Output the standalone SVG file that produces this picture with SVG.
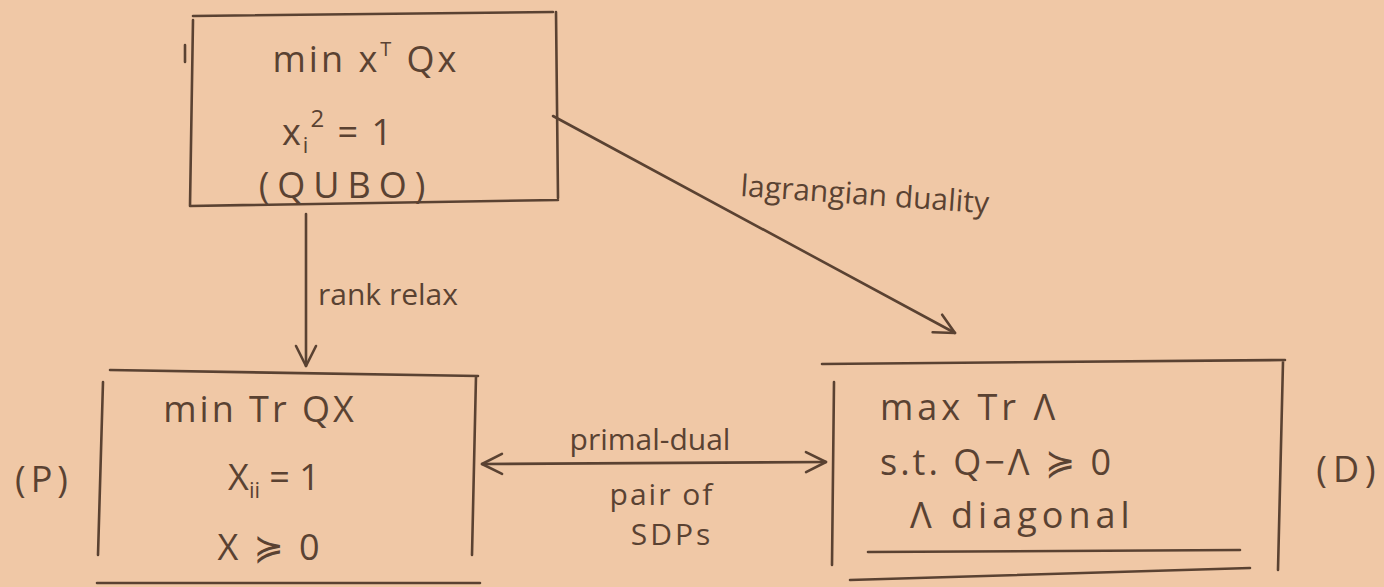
<svg xmlns="http://www.w3.org/2000/svg" width="1384" height="587" viewBox="0 0 1384 587">
<style>
.ln{fill:none;stroke:#5a4232;stroke-width:2.6;stroke-linecap:round;stroke-linejoin:round}
.t{font-family:"Open Sans","DejaVu Sans",sans-serif;fill:#5a4232;font-size:36px}
.m{text-anchor:middle}
.s{font-size:30px}
</style>
<defs>
<marker id="ah" viewBox="0 0 24 24" refX="22" refY="12" markerWidth="24" markerHeight="24" markerUnits="userSpaceOnUse" orient="auto-start-reverse">
<path d="M2,2 L22,12 L2,22" fill="none" stroke="#5a4232" stroke-width="2.6" stroke-linecap="round" stroke-linejoin="round"/>
</marker>
</defs>
<rect width="1384" height="587" fill="#f0c8a6"/>
<g id="qubo">
<path class="ln" d="M193,16 L553,12 M193,20 L190,206 L558,200 M556,12 L558,198 M185,45 L185,62"/>
<text class="t m" x="366" y="72" letter-spacing="3">min  x<tspan font-size="20" dy="-16">T</tspan><tspan dy="16"> Qx</tspan></text>
<text class="t m" x="338" y="145" letter-spacing="2">x<tspan font-size="22" dy="8">i</tspan><tspan font-size="24" dy="-26">2</tspan><tspan dy="18"> = 1</tspan></text>
<text class="t m" x="346" y="198" letter-spacing="8">(QUBO)</text>
</g>
<g id="primal">
<path class="ln" d="M110,370 L478,376 M103,382 L98,555 M476,376 L472,555 M97,583 L480,583"/>
<text class="t m" x="260" y="422" letter-spacing="3">min Tr QX</text>
<text class="t m" x="274" y="490">X<tspan font-size="22" dy="8">ii</tspan><tspan dy="-8"> = 1</tspan></text>
<text class="t m" x="270" y="560" font-size="40" letter-spacing="3">X ≽ 0</text>
<text class="t m" x="44" y="492" letter-spacing="5">(P)</text>
</g>
<g id="dual">
<path class="ln" d="M822,364 L1285,360 M834,382 L832,565 M1283,362 L1278,570 M868,552 L1240,550 M850,580 L1250,568"/>
<text class="t" x="880" y="420" letter-spacing="4">max Tr Λ</text>
<text class="t" x="880" y="475" letter-spacing="3">s.t.  Q−Λ ≽ 0</text>
<text class="t" x="910" y="528" letter-spacing="5">Λ  diagonal</text>
<text class="t m" x="1349" y="482" letter-spacing="6">(D)</text>
</g>
<g id="connectors">
<path class="ln" d="M306,214 L306,366" marker-end="url(#ah)"/>
<text class="t s" x="318" y="305">rank relax</text>
<path class="ln" d="M553,116 L955,333" marker-end="url(#ah)"/>
<text class="t s" x="740" y="196" font-size="34" transform="rotate(4 740 196)">lagrangian duality</text>
<path class="ln" d="M482,464 L826,462" marker-start="url(#ah)" marker-end="url(#ah)"/>
<text class="t s m" x="650" y="450" font-size="32">primal-dual</text>
<text class="t s m" x="662" y="505" font-size="32" letter-spacing="2">pair of</text>
<text class="t s m" x="672" y="545" font-size="32" letter-spacing="3">SDPs</text>
</g>
</svg>
